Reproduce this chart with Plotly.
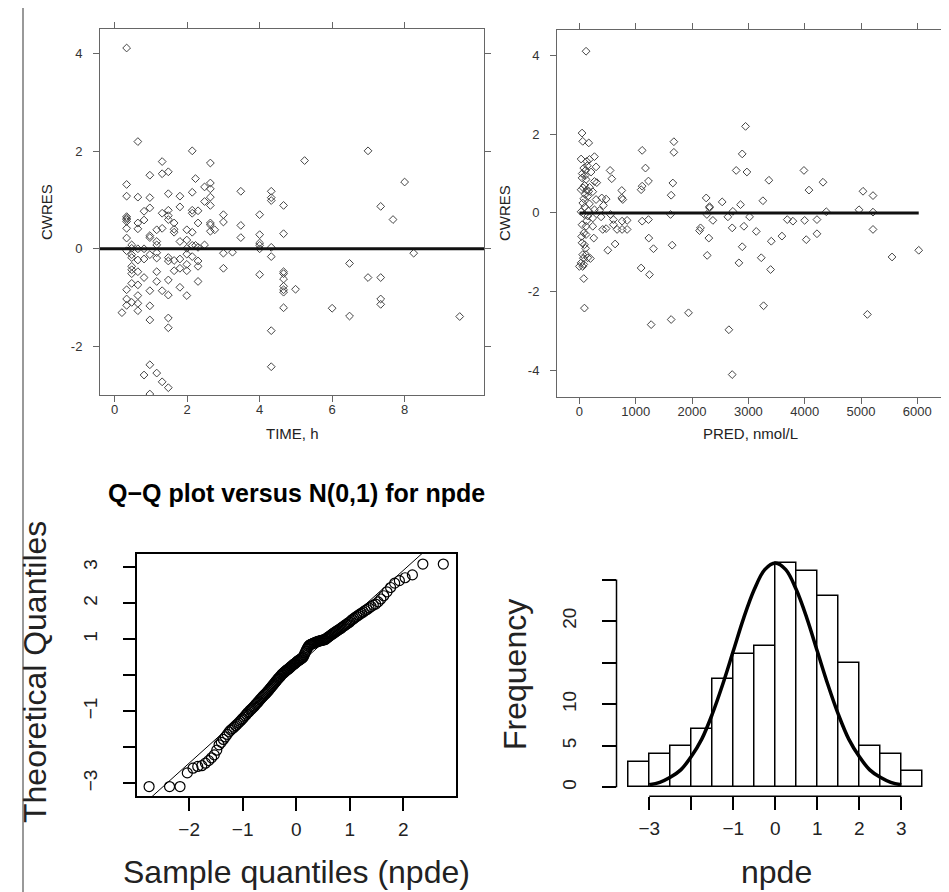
import numpy as np
import plotly.graph_objects as go
from statistics import NormalDist

# ---- data ----
# CWRES vs TIME (top left)
time_h = [
    0.20,
    0.33, 0.33, 0.33, 0.33, 0.33, 0.33, 0.33, 0.33, 0.33, 0.33, 0.33, 0.33, 0.33,
    0.47, 0.47, 0.47, 0.47, 0.47, 0.47, 0.47, 0.47, 0.47,
    0.64, 0.64, 0.64, 0.64, 0.64, 0.64, 0.64, 0.64, 0.64, 0.64, 0.64,
    0.81, 0.81, 0.81, 0.81, 0.81, 0.81,
    0.97, 0.97, 0.97, 0.97, 0.97, 0.97, 0.97, 0.97, 0.97, 0.97, 0.97,
    1.16, 1.16, 1.16, 1.16, 1.16, 1.16, 1.16, 1.16,
    1.31, 1.31, 1.31, 1.31, 1.31, 1.31,
    1.48, 1.48, 1.48, 1.48, 1.48, 1.48, 1.48, 1.48, 1.48, 1.48, 1.48, 1.48,
    1.64, 1.64, 1.64, 1.64, 1.64,
    1.80, 1.80, 1.80, 1.80, 1.80, 1.80,
    1.99, 1.99, 1.99, 1.99, 1.99, 1.99, 1.99,
    2.14, 2.14, 2.14, 2.14, 2.14, 2.14, 2.14,
    2.23, 2.23,
    2.30, 2.30, 2.30, 2.30, 2.30, 2.30,
    2.48, 2.48, 2.48,
    2.64, 2.64, 2.64, 2.64, 2.64, 2.64, 2.64, 2.64,
    2.76,
    3.00, 3.00, 3.00, 3.00,
    3.25,
    3.48, 3.48, 3.48,
    4.00, 4.00, 4.00, 4.00, 4.00, 4.00,
    4.32, 4.32, 4.32, 4.32, 4.32, 4.32, 4.32,
    4.66, 4.66, 4.66, 4.66, 4.66, 4.66, 4.66, 4.66, 4.66,
    4.99,
    5.24,
    6.00,
    6.48, 6.48,
    6.99, 6.99,
    7.34, 7.34, 7.34, 7.34,
    7.68,
    8.00,
    8.25,
    9.52,
]
cwres_time = [
    -1.31,
    4.12, 1.32, 1.08, 0.66, 0.63, 0.60, 0.56, 0.42, 0.22, -0.04, -0.84, -1.03, -1.16,
    0.08, 0.01, -0.12, -0.18, -0.36, -0.43, -0.51, -0.71, -1.10,
    2.20, 1.06, 0.53, 0.41, 0.00, -0.23, -0.47, -0.74, -0.96, -1.12, -1.27,
    0.77, 0.59, 0.00, -0.21, -0.59, -2.59,
    1.51, 1.05, 0.84, 0.27, 0.23, -0.12, -0.86, -1.17, -1.46, -2.38, -2.98,
    0.39, 0.15, 0.08, -0.08, -0.19, -0.47, -0.67, -2.55,
    1.79, 1.54, 0.73, 0.42, -0.86, -2.73,
    1.58, 1.13, 0.79, 0.68, 0.60, -0.18, -0.25, -0.64, -0.95, -1.42, -1.62, -2.85,
    0.53, 0.40, 0.34, -0.24, -0.45,
    1.08, 0.86, 0.15, -0.21, -0.40, -0.79,
    0.39, 0.18, 0.01, -0.11, -0.32, -0.45, -0.96,
    2.01, 1.16, 0.79, 0.73, 0.34, 0.07, -0.16,
    1.44, 0.07,
    0.78, 0.53, 0.03, -0.25, -0.36, -0.67,
    1.27, 0.97, 0.08,
    1.76, 1.35, 1.23, 1.06, 0.89, 0.53, 0.49, 0.36,
    0.39,
    0.70, 0.55, -0.09, -0.40,
    -0.07,
    1.18, 0.48, 0.23,
    0.70, 0.29, 0.12, 0.07, 0.00, -0.53,
    1.18, 1.05, 0.99, 0.03, -0.16, -1.68, -2.42,
    0.89, 0.31, -0.47, -0.51, -0.62, -0.77, -0.84, -0.89, -1.21,
    -0.83,
    1.81,
    -1.22,
    -0.30, -1.38,
    2.01, -0.59,
    0.87, -0.59, -1.03, -1.14,
    0.60,
    1.37,
    -0.09,
    -1.39,
]

# CWRES vs PRED (top right)
pred_nmol = [
    118, 47, 59, 166, 30, 130, 178, 267, 77, 107, 207, 296, 47, 118, 267, 308,
    65, 130, 30, 166, 237, 101, 148, 77, 178, 296, 397, 474, 427, 267, 356, 30,
    89, 148, 237, 385, 551, 47, 118, 237, 77, 118, 255, 414, 474, 604, 604, 669,
    758, 847, 634, 504, 47, 89, 118, 59, 148, 195, 30, 77, 0, 59, 77, 89,
    100, 140, 60, 90, 160, 40, 110, 70, 130, 50, 180, 95,
    545, 575, 752, 752, 770, 847, 758,
    1114, 1173, 1096, 1114, 1226, 1114, 1226, 1232, 1315, 1096, 1244, 1274,
    1677, 1677, 1659, 1629, 1618, 1647, 1629, 1937,
    2133, 2150, 2251, 2263, 2310, 2310, 2370, 2298, 2269, 2535, 2636, 2725,
    2713, 2654, 2713, 2784, 2832, 2861, 2891, 2950, 2974, 2921, 2891, 3021,
    3140, 3229, 3258, 3270, 3365, 3407, 3395, 3596, 3691, 3791, 3987, 3999,
    4028, 4076, 4218, 4218, 4325, 4384, 4965, 5036, 5113, 5213, 5213, 5213,
    5551, 6025,
]
cwres_pred = [
    4.11, 2.03, 1.82, 1.78, 1.37, 1.31, 1.36, 1.43, 1.14, 1.08, 1.04, 1.17, 0.89, 0.85, 0.80, 0.77,
    0.64, 0.58, 0.59, 0.55, 0.54, 0.47, 0.42, 0.36, 0.23, 0.34, 0.38, 0.35, 0.19, 0.08, 0.06, 0.03,
    -0.04, -0.08, -0.13, -0.10, -0.04, -0.30, -0.34, -0.34, -0.51, -0.55, -0.64, -0.42, -0.40, -0.17, -0.30, -0.42,
    -0.42, -0.42, -0.79, -0.95, -0.76, -0.81, -1.06, -1.06, -1.14, -1.16, -1.27, -1.31, -1.36, -1.36, -1.67, -2.42,
    0.95, 1.20, 0.25, 0.70, 0.05, -0.60, -0.90, -1.15, -0.20, 1.00, 0.65, 0.15,
    1.08, 0.87, 0.57, 0.38, 0.34, -0.19, -0.21,
    1.59, 1.14, 0.59, 0.68, 0.81, -0.21, -0.17, -0.64, -0.91, -1.40, -1.57, -2.84,
    1.81, 1.54, 0.76, 0.45, -0.04, -0.82, -2.71, -2.54,
    -0.45, -0.38, 0.38, -0.04, 0.13, 0.16, -0.19, -0.64, -1.08, 0.28, -0.10, 0.04,
    -0.38, -2.97, -4.11, 1.08, -1.27, 0.21, 1.50, 2.20, 1.04, -0.34, -0.86, -0.10,
    -0.47, -1.14, 0.31, -2.36, 0.83, -0.72, -1.44, -0.59, -0.17, -0.21, 1.08, -0.19,
    -0.68, 0.58, -0.17, -0.53, 0.78, 0.03, 0.08, 0.55, -2.58, 0.44, 0.02, -0.42,
    -1.12, -0.95,
]

# npde values (sorted), used by both bottom panels
npde = [
    -3.09, -3.09, -3.09,
    -2.71, -2.58, -2.53, -2.51,
    -2.44, -2.37, -2.29, -2.21, -2.08,
    -1.93, -1.86, -1.78, -1.71, -1.64, -1.57, -1.52,
    -1.48, -1.44, -1.40, -1.36, -1.32, -1.28, -1.24, -1.20, -1.16, -1.12, -1.08, -1.04, -1.01,
    -0.97, -0.94, -0.91, -0.88, -0.85, -0.81, -0.78, -0.75, -0.72, -0.68, -0.65, -0.62, -0.59, -0.56, -0.53, -0.51,
    -0.48, -0.45, -0.42, -0.39, -0.36, -0.33, -0.30, -0.27, -0.24, -0.21, -0.18, -0.15, -0.12, -0.09, -0.07, -0.04, -0.02,
    0.02, 0.04, 0.06, 0.08, 0.10, 0.12, 0.14, 0.16, 0.17, 0.19, 0.21, 0.23, 0.25, 0.27, 0.29, 0.31, 0.32, 0.34,
    0.36, 0.38, 0.40, 0.41, 0.43, 0.44, 0.46, 0.48, 0.49,
    0.52, 0.57, 0.62, 0.67, 0.72, 0.76, 0.80, 0.83, 0.85, 0.86, 0.87, 0.88, 0.89, 0.90, 0.91, 0.92, 0.93,
    0.94, 0.95, 0.95, 0.96, 0.97, 0.97, 0.98, 0.99, 0.99,
    1.01, 1.03, 1.05, 1.07, 1.09, 1.11, 1.13, 1.15, 1.17, 1.19, 1.21, 1.23, 1.25, 1.27, 1.29, 1.31, 1.34,
    1.36, 1.38, 1.41, 1.43, 1.46, 1.48,
    1.52, 1.55, 1.58, 1.61, 1.64, 1.67, 1.70, 1.73, 1.76, 1.80, 1.83, 1.87, 1.91, 1.95, 1.98,
    2.04, 2.12, 2.21, 2.32, 2.44,
    2.56, 2.63, 2.71, 2.79,
    3.09, 3.09,
]

# normal curve drawn over the histogram (read at 0.25 steps)
curve_x = [-3, -2.75, -2.5, -2.25, -2, -1.75, -1.5, -1.25, -1, -0.75, -0.5, -0.25, 0,
           0.25, 0.5, 0.75, 1, 1.25, 1.5, 1.75, 2, 2.25, 2.5, 2.75, 3]
curve_y = [0.3, 0.6, 1.2, 2.1, 3.7, 5.8, 8.8, 12.4, 16.4, 20.4, 23.8, 26.2, 27.0,
           26.2, 23.8, 20.4, 16.4, 12.4, 8.8, 5.8, 3.7, 2.1, 1.2, 0.6, 0.3]

ref_line = 0

# ---- layout helpers (pixel -> paper) ----
W, H = 949, 892
FONT = "Arial, Liberation Sans, sans-serif"


def xdom(left, right):
    return [left / W, right / W]


def ydom(top, bottom):
    return [1 - bottom / H, 1 - top / H]


def label(x, y, text, size, angle=0, color="#222"):
    return dict(xref="paper", yref="paper", x=x / W, y=1 - y / H, text=text,
                showarrow=False, textangle=angle, xanchor="center", yanchor="middle",
                font=dict(family=FONT, size=size, color=color))


fig = go.Figure()

# top panels
top_marker = dict(symbol="diamond-open", size=6, color="#444", line=dict(width=1, color="#444"))
fig.add_trace(go.Scatter(x=time_h, y=cwres_time, mode="markers", marker=top_marker,
                         xaxis="x", yaxis="y"))
fig.add_trace(go.Scatter(x=pred_nmol, y=cwres_pred, mode="markers", marker=top_marker,
                         xaxis="x2", yaxis="y2"))
fig.add_trace(go.Scatter(x=[min(pred_nmol), max(pred_nmol)], y=[ref_line, ref_line], mode="lines",
                         line=dict(color="#111", width=3), xaxis="x2", yaxis="y2"))

# QQ plot
n = len(npde)
theo = [NormalDist().inv_cdf((i - 0.5) / n) for i in range(1, n + 1)]
qq_xrange = [-2.98, 2.98]
y_q = np.quantile(npde, [0.25, 0.75])
x_q = [NormalDist().inv_cdf(0.25), NormalDist().inv_cdf(0.75)]
slope = (y_q[1] - y_q[0]) / (x_q[1] - x_q[0])
intercept = y_q[0] - slope * x_q[0]
fig.add_trace(go.Scatter(x=qq_xrange, y=[intercept + slope * v for v in qq_xrange], mode="lines",
                         line=dict(color="black", width=1), xaxis="x3", yaxis="y3"))
fig.add_trace(go.Scatter(x=theo, y=sorted(npde), mode="markers",
                         marker=dict(symbol="circle-open", size=10, color="black", line=dict(width=1.2)),
                         xaxis="x3", yaxis="y3", cliponaxis=False))

# histogram
fig.add_trace(go.Histogram(x=npde, xbins=dict(start=-3.5, end=3.5, size=0.5),
                           marker=dict(color="white", line=dict(color="black", width=1.5)),
                           xaxis="x4", yaxis="y4"))
fig.add_trace(go.Scatter(x=curve_x, y=curve_y, mode="lines", line=dict(color="black", width=3.5, shape="spline"),
                         xaxis="x4", yaxis="y4"))

top_tick = dict(family=FONT, size=13, color="#333")
top_axis = dict(showline=True, linecolor="#666", linewidth=1, mirror="ticks", ticks="outside",
                ticklen=6, tickcolor="#666", showgrid=False, zeroline=False, tickfont=top_tick)
big_tick = dict(family=FONT, size=19, color="#222")

fig.update_layout(
    width=W, height=H, margin=dict(l=0, r=0, t=0, b=0),
    paper_bgcolor="white", plot_bgcolor="white", showlegend=False, bargap=0,
    xaxis=dict(top_axis, domain=xdom(92, 476), range=[-0.405, 10.19], anchor="y", ticklabelstandoff=-4,
               tickvals=[0, 2, 4, 6, 8], ticktext=["0", "2", "4", "6", "8"]),
    yaxis=dict(top_axis, domain=ydom(21, 387), range=[-3.0, 4.51], anchor="x", ticklabelstandoff=8,
               tickvals=[-2, 0, 2, 4], ticktext=["-2", "0", "2", "4"]),
    xaxis2=dict(top_axis, domain=xdom(549, 935), range=[-398, 6456], anchor="y2", ticklabelstandoff=-4,
                tickvals=[0, 1000, 2000, 3000, 4000, 5000, 6000],
                ticktext=["0", "1000", "2000", "3000", "4000", "5000", "6000"]),
    yaxis2=dict(top_axis, domain=ydom(22, 389), range=[-4.68, 4.65], anchor="x2", ticklabelstandoff=8,
                tickvals=[-4, -2, 0, 2, 4], ticktext=["-4", "-2", "0", "2", "4"]),
    xaxis3=dict(domain=xdom(128.7, 447.7), range=qq_xrange, anchor="y3",
                showline=True, mirror=True, linecolor="black", linewidth=1.5,
                ticks="outside", ticklen=13, tickwidth=1.5, tickcolor="black",
                showgrid=False, zeroline=False, tickfont=big_tick, ticklabelstandoff=2,
                tickvals=[-2, -1, 0, 1, 2], ticktext=["\u22122", "\u22121", "0", "1", "2"]),
    yaxis3=dict(domain=ydom(546, 788.3), range=[-3.36, 3.37], anchor="x3",
                showline=True, mirror=True, linecolor="black", linewidth=1.5,
                ticks="outside", ticklen=12, tickwidth=1.5, tickcolor="black",
                showgrid=False, zeroline=False, tickfont=big_tick, tickangle=-90, ticklabelstandoff=18,
                tickvals=[-3, -2, -1, 0, 1, 2, 3], ticktext=["\u22123", "", "\u22121", "", "1", "2", "3"]),
    xaxis4=dict(domain=xdom(608.5, 926), range=[-3.78, 3.78], anchor="y4",
                showline=False, ticks="outside", ticklen=13, tickwidth=1.5, tickcolor="black",
                showgrid=False, zeroline=False, tickfont=big_tick, ticklabelstandoff=2,
                tickvals=[-3, -2, -1, 0, 1, 2, 3], ticktext=["\u22123", "", "\u22121", "0", "1", "2", "3"]),
    yaxis4=dict(domain=ydom(546, 788.3), range=[-1.08, 28.08], anchor="x4",
                showline=False, ticks="outside", ticklen=14, tickwidth=1.5, tickcolor="black",
                showgrid=False, zeroline=False, tickfont=big_tick, tickangle=-90, ticklabelstandoff=18,
                tickvals=[0, 5, 10, 15, 20, 25], ticktext=["0", "5", "10", "", "20", ""]),
    shapes=[
        # zero reference line, top-left
        dict(type="line", xref="x domain", yref="y", x0=0, x1=1, y0=ref_line, y1=ref_line,
             line=dict(color="#111", width=3)),
        # histogram axis lines (from first to last tick, as in R)
        dict(type="line", xref="x4 domain", yref="y4", x0=0, x1=0, y0=0, y1=25,
             line=dict(color="black", width=1.5)),
        dict(type="line", xref="x4", yref="y4 domain", x0=-3, x1=3, y0=0, y1=0,
             line=dict(color="black", width=1.5)),
        # page border on the left
        dict(type="line", xref="paper", yref="paper", x0=15 / W, x1=15 / W, y0=0, y1=1,
             line=dict(color="#999", width=2)),
    ],
    annotations=[
        label(38, 204, "CWRES", 15, -90),
        label(284, 425, "TIME, h", 15),
        label(496, 205, "CWRES", 15, -90),
        label(742, 425, "PRED, nmol/L", 15),
        label(288, 485, "<b>Q\u2212Q plot versus N(0,1) for npde</b>", 25, 0, "black"),
        label(27, 664, "Theoretical Quantiles", 32, -90),
        label(288, 864, "Sample quantiles (npde)", 32),
        label(507, 667, "Frequency", 32, -90),
        label(768, 864, "npde", 32),
    ],
)

fig.write_html("out.html")
